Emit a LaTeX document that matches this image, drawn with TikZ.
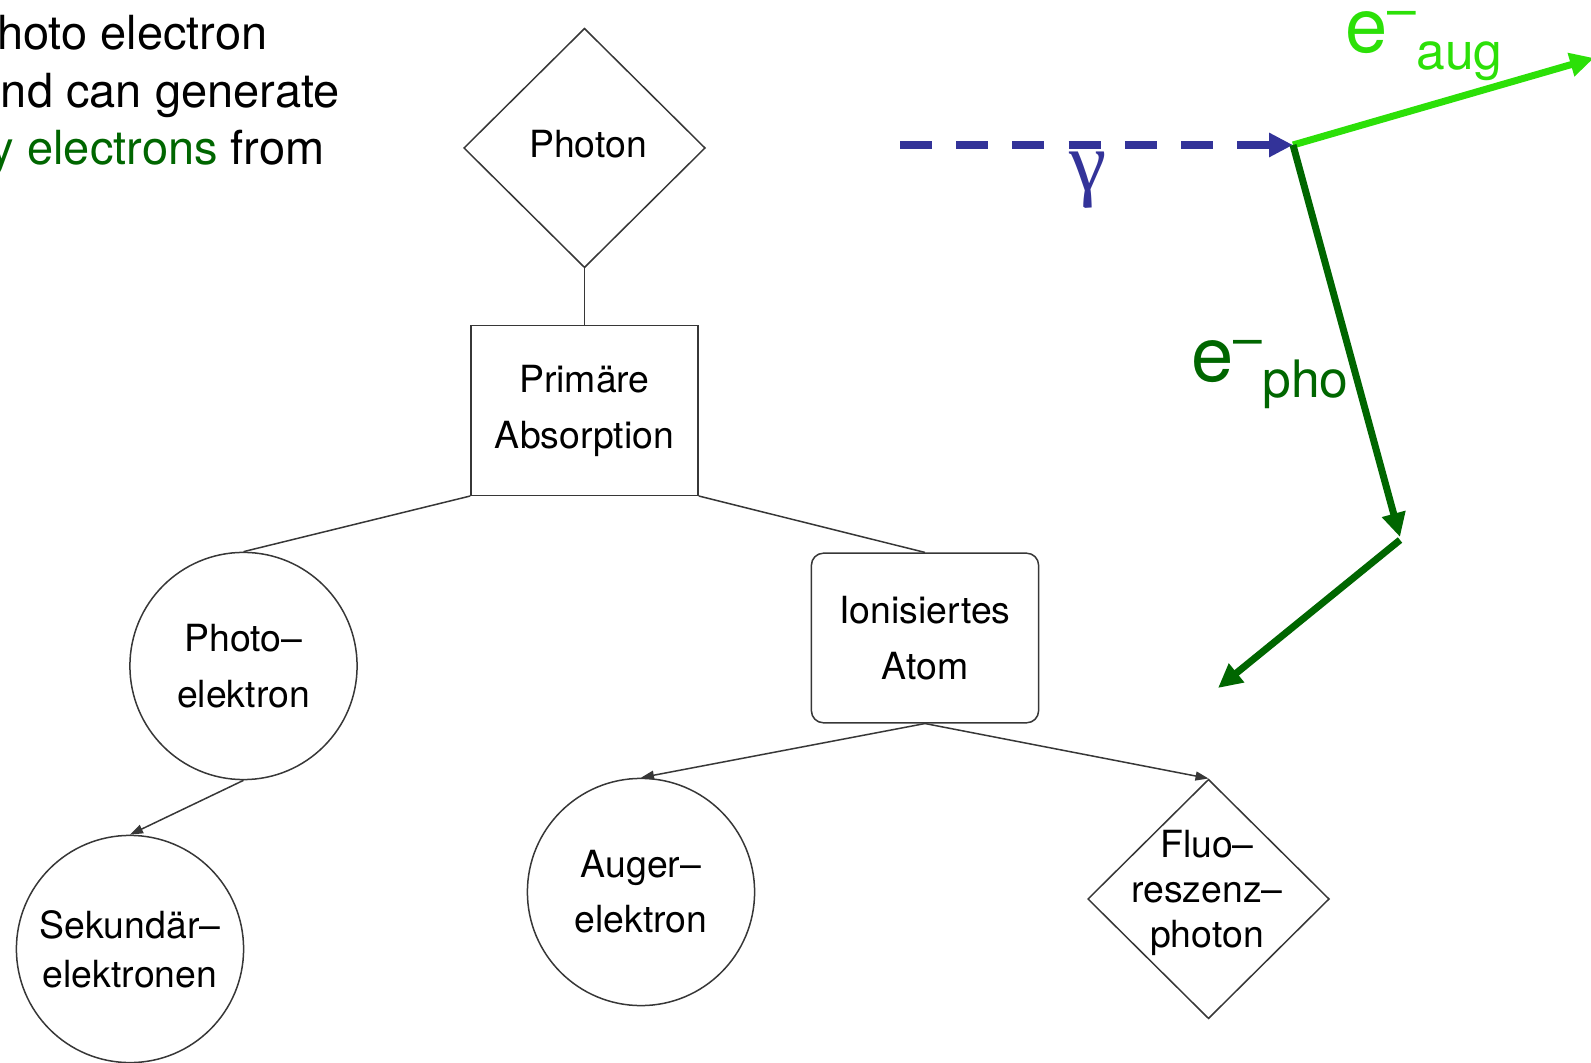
\documentclass[tikz,border=0pt]{standalone}
\usepackage{fontspec}
\setmainfont{TeX Gyre Heros}
\newfontfamily\serifgreek{Liberation Serif}
\usetikzlibrary{shapes.geometric,arrows.meta}
\definecolor{gblue}{RGB}{51,51,153}
\definecolor{lgreen}{RGB}{44,224,8}
\definecolor{dgreen}{RGB}{0,102,0}
\definecolor{edgegray}{RGB}{55,55,55}
\begin{document}
\begin{tikzpicture}[x=0.5pt,y=-0.5pt,
  shapeline/.style={draw=edgegray, line width=0.75pt},
  dtext/.style={align=center, inner sep=0pt, font=\fontsize{18.7}{28}\selectfont},
  dia/.style={shapeline, diamond, minimum width=120.75pt, minimum height=119.75pt, inner sep=0pt},
  boxnode/.style={shapeline, dtext, rectangle, minimum width=113.6pt, minimum height=84.8pt},
  circ/.style={shapeline, dtext, circle, minimum size=113.6pt},
  edge/.style={draw=edgegray, line width=0.75pt},
  arr/.style={edge, -{Triangle[length=6.5pt,width=4.5pt]}},
  bigtip/.style={-{Triangle[length=12pt,width=11.5pt]}},
  toptext/.style={anchor=base east, inner sep=0pt, font=\fontsize{23.5}{28}\selectfont},
  elabel/.style={anchor=base west, inner sep=0pt, font=\fontsize{38}{40}\selectfont}
]
\useasboundingbox (0,0) rectangle (1591,1063);
\clip (0,0) rectangle (1591,1063);

% top-left text (cut off at the left edge)
\node[toptext] (t1) at (268,50) {photo electron};
\node[toptext] (t2) at (340,108) {and can generate};
\node[toptext] (t3) at (325,165) {{\color{dgreen}secondary electrons} from};

% diagram nodes
\node[dia] (photon) at (584.5,148) {};
\node[dtext] (photontxt) at (588,144) {Photon};
\node[boxnode] (prim) at (584.5,410.5) {Primäre\\Absorption};
\node[circ] (photoel) at (243.5,666) {Photo–\\elektron};
\node[boxnode, rounded corners=6pt] (ion) at (925,638) {Ionisiertes\\Atom};
\node[circ, font=\fontsize{18.7}{24.5}\selectfont] (sek) at (130,949) {Sekundär–\\elektronen};
\node[circ, font=\fontsize{18.7}{27.4}\selectfont] (auger) at (641,892) {Auger–\\elektron};
\node[dia] (fluo) at (1208.5,899) {};
\node[dtext, font=\fontsize{18.7}{22.4}\selectfont] (fluotxt) at (1207,893) {Fluo–\\reszenz–\\photon};

% diagram connectors
\draw[edge] (photon.south) -- (prim.north);
\draw[edge] (prim.south west) -- (photoel.north);
\draw[edge] (prim.south east) -- (ion.north);
\draw[arr] (photoel.south) -- (sek.north);
\draw[arr] (ion.south) -- (auger.north);
\draw[arr] (ion.south) -- (fluo.north);

% right-hand sketch
\coordinate (gstart) at (900,145);
\coordinate (vtx) at (1293,145);
\coordinate (augend) at (1594,58);
\coordinate (phoend) at (1400,537);
\coordinate (kink) at (1400,540);
\coordinate (secend) at (1218,688);

\draw[gblue, line width=4pt, dash pattern=on 16pt off 12.1pt, bigtip] (gstart) -- (vtx);
\draw[lgreen, line width=3.5pt, bigtip] (vtx) -- (augend);
\draw[dgreen, line width=3.5pt, bigtip] (vtx) -- (phoend);
\draw[dgreen, line width=3.5pt, bigtip] (kink) -- (secend);

\node[anchor=base, text=gblue, inner sep=0pt, font=\serifgreek\fontsize{42}{42}\selectfont] (gam) at (1088,191) {γ};
\node[elabel, text=lgreen] (eaug) at (1345,53) {e\raisebox{12.7pt}{\fontsize{25.8}{26}\selectfont –}\raisebox{-8.5pt}{\fontsize{25.8}{26}\selectfont aug}};
\node[elabel, text=dgreen] (epho) at (1191,382) {e\raisebox{12.7pt}{\fontsize{25.8}{26}\selectfont –}\raisebox{-8pt}{\fontsize{25.8}{26}\selectfont pho}};
\end{tikzpicture}
\end{document}
